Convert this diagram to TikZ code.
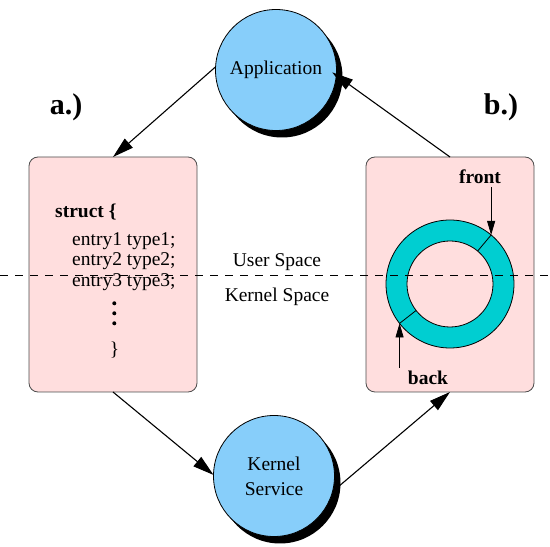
\documentclass[tikz,border=0pt]{standalone}
\usepackage{fontspec}
\setmainfont{Liberation Serif}
\usetikzlibrary{arrows.meta,shadows,calc}
\definecolor{boxpink}{HTML}{FFDEDE}
\definecolor{circblue}{HTML}{87CEFA}
\definecolor{ringcyan}{HTML}{00CED1}
\begin{document}
\begin{tikzpicture}[x=1pt,y=1pt,
  txt/.style={font=\fontsize{19.5}{25}\selectfont, inner sep=0pt},
  bigtxt/.style={font=\fontsize{30}{30}\selectfont\bfseries, inner sep=0pt},
  proc/.style={circle, draw=black, line width=0.8pt, fill=circblue, minimum size=121pt, inner sep=0pt, outer sep=0pt, align=center,
    font=\fontsize{19.5}{25}\selectfont,
    drop shadow={shadow xshift=6pt, shadow yshift=-7pt, fill=black, opacity=1}},
  panel/.style={draw=black!70, line width=0.8pt, fill=boxpink, rounded corners=9pt, minimum width=168pt, minimum height=235pt, outer sep=0pt},
  conn/.style={line width=1.1pt, -{Triangle[length=21pt,width=12pt]}},
  tag/.style={line width=0.8pt, -{Triangle[length=14pt,width=8pt]}}
]
\useasboundingbox (0,0) rectangle (550,547);

% panels
\node[panel] (lbox) at (113,272.5) {};
\node[panel] (rbox) at (450,272.5) {};

% circles
\node[proc] (app) at (276,477) {Application};
\node[proc] (ks) at (274,71) {Kernel\\Service};

% labels a.) b.)
\node[bigtxt] (la) at (66,440) {a.)};
\node[bigtxt] (lb) at (501,440) {b.)};

% struct text
\node[txt, anchor=west, font=\fontsize{19.5}{25}\selectfont\bfseries] (st) at (55,335) {struct \{};
\node[txt, anchor=west] (e1) at (72,306) {entry1 type1;};
\node[txt, anchor=west] (e2) at (72,285.5) {entry2 type2;};
\node[txt, anchor=west] (e3) at (72,265) {entry3 type3;};
\fill (114.3,243.7) circle (2pt) (114.3,233.7) circle (2pt) (114.3,223.7) circle (2pt);
\node[txt] (cl) at (114.5,197) {\}};

% ring buffer
\node[circle, draw=black, line width=0.8pt, fill=ringcyan, minimum size=128pt, inner sep=0pt, outer sep=0pt] (ring) at (450,263) {};
\node[circle, draw=black, line width=0.8pt, fill=boxpink, minimum size=86pt, inner sep=0pt, outer sep=0pt] (hole) at (450,263) {};
\draw[line width=0.8pt] (hole.50) -- (ring.50);
\draw[line width=0.8pt] (hole.218) -- (ring.218);
\node[txt, font=\fontsize{19.5}{25}\selectfont\bfseries] (front) at (480,370) {front};
\node[txt, font=\fontsize{19.5}{25}\selectfont\bfseries] (back) at (428,169) {back};
\draw[tag] ([yshift=-3pt]front.south -| ring.50) -- (ring.50);
\draw[tag] ([yshift=3pt]back.north -| ring.218) -- (ring.218);

% space labels
\node[txt] (us) at (277,285) {User Space};
\node[txt] (kspace) at (277,250) {Kernel Space};

% dashed separator
\coordinate (dl) at (0,271.5);
\coordinate (dr) at (550,271.5);
\draw[line width=1.1pt, dash pattern=on 8pt off 7pt] (dl) -- (dr);

% connectors
\draw[conn] (app.177) -- (lbox.north);
\draw[conn] (lbox.south) -- (ks.179);
\draw[conn] ($(ks.-10)+(5,0)$) -- (rbox.south);
\draw[conn, shorten >=-5pt] (rbox.north) -- (app.-5);
\end{tikzpicture}
\end{document}
